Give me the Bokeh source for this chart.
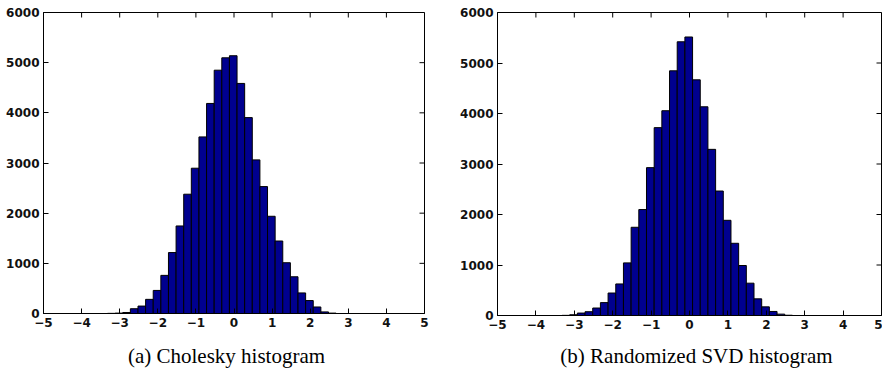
from bokeh.plotting import figure
from bokeh.layouts import row, column
from bokeh.models import FixedTicker, Range1d, ColumnDataSource
from bokeh.core.properties import value
from bokeh.embed import file_html
from bokeh.resources import INLINE

# ---- data ----
bin_centers = [-3.22, -3.02, -2.82, -2.62, -2.42, -2.22, -2.02, -1.82, -1.62, -1.42,
               -1.22, -1.02, -0.82, -0.62, -0.42, -0.22, -0.02, 0.18, 0.38, 0.58,
               0.78, 0.98, 1.18, 1.38, 1.58, 1.78, 1.98, 2.18, 2.38, 2.58]
bin_width = 0.2
cholesky_counts = [3, 8, 20, 95, 148, 282, 460, 760, 1215, 1745,
                   2378, 2896, 3520, 4187, 4850, 5097, 5138, 4586, 3905, 3062,
                   2530, 1938, 1445, 1012, 732, 410, 258, 130, 32, 8]
rsvd_counts = [3, 15, 48, 75, 148, 255, 445, 625, 1042, 1747,
               2098, 2928, 3720, 4055, 4845, 5420, 5515, 4667, 4133, 3290,
               2465, 1885, 1430, 990, 640, 330, 171, 80, 27, 5]
x_ticks = [-5, -4, -3, -2, -1, 0, 1, 2, 3, 4, 5]
y_ticks = [0, 1000, 2000, 3000, 4000, 5000, 6000]
captions = ["(a) Cholesky histogram", "(b) Randomized SVD histogram"]

X_LO, X_HI = -5, 5
Y_LO, Y_HI = 0, 6000
BAR_COLOR = "#00008f"
TICK_FONT = "DejaVu Sans"
TICK_PX = 5


def style_axis(ax):
    ax.axis_line_color = "black"
    ax.axis_line_width = 1
    ax.major_tick_line_color = "black"
    ax.major_tick_in = TICK_PX
    ax.major_tick_out = 0
    ax.minor_tick_line_color = None
    ax.major_label_text_font = TICK_FONT
    ax.major_label_text_font_size = "12px"
    ax.major_label_text_font_style = "bold"
    ax.major_label_text_color = "#111111"
    ax.major_label_standoff = 4


def make_hist(counts, border_left, border_right, border_top, fw, fh):
    p = figure(frame_width=fw, frame_height=fh,
               min_border_left=border_left, min_border_right=border_right,
               min_border_top=border_top, min_border_bottom=22,
               x_range=Range1d(X_LO, X_HI), y_range=Range1d(Y_LO, Y_HI),
               output_backend="svg", toolbar_location=None, tools="")
    src = ColumnDataSource(dict(x=bin_centers, top=counts))
    p.vbar(x="x", top="top", bottom=0, width=bin_width, source=src,
           fill_color=BAR_COLOR, line_color="black", line_width=1)
    p.xgrid.visible = False
    p.ygrid.visible = False
    p.outline_line_color = "black"
    p.outline_line_width = 1
    p.xaxis.ticker = FixedTicker(ticks=x_ticks)
    p.yaxis.ticker = FixedTicker(ticks=y_ticks)
    for ax in p.xaxis + p.yaxis:
        style_axis(ax)

    # inward tick marks on the top and right edges of the box (MATLAB style)
    dy = TICK_PX * (Y_HI - Y_LO) / fh
    dx = TICK_PX * (X_HI - X_LO) / fw
    p.segment(x0=x_ticks, y0=[Y_HI] * len(x_ticks), x1=x_ticks,
              y1=[Y_HI - dy] * len(x_ticks), line_color="black", line_width=1)
    p.segment(x0=[X_HI] * len(y_ticks), y0=y_ticks, x1=[X_HI - dx] * len(y_ticks),
              y1=y_ticks, line_color="black", line_width=1)
    return p


def make_caption(text, total_w, center_px, h, center_from_top_px):
    c = figure(frame_width=total_w, frame_height=h,
               min_border_left=0, min_border_right=0, min_border_top=0, min_border_bottom=0,
               x_range=Range1d(0, total_w), y_range=Range1d(0, h),
               output_backend="svg", toolbar_location=None, tools="")
    c.axis.visible = False
    c.xgrid.visible = False
    c.ygrid.visible = False
    c.outline_line_color = None
    c.text(x=[center_px], y=[h - center_from_top_px], text=[text],
           text_align="center", text_baseline="middle",
           text_font=value("Liberation Serif"), text_font_size="21px",
           text_color="black")
    return c


p1 = make_hist(cholesky_counts, 43, 28, 12, 381, 301)   # total width 452
p2 = make_hist(rsvd_counts, 45, 1, 10, 384, 303)        # total width 430

c1 = make_caption(captions[0], 452, 226, 33, 20)
c2 = make_caption(captions[1], 430, 244, 33, 20)

layout = column(row(p1, p2), row(c1, c2))
open("out.html", "w").write(file_html(layout, INLINE))
